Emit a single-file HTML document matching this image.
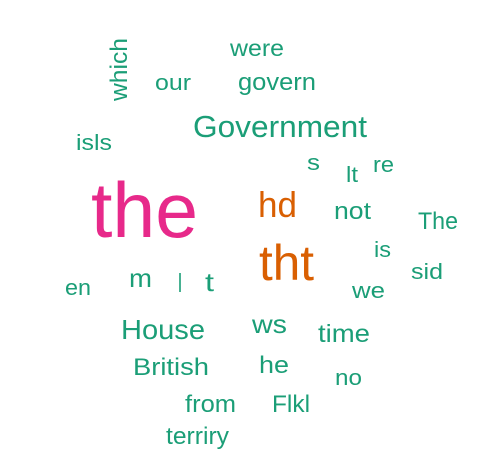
<!DOCTYPE html>
<html><head><meta charset="utf-8"><style>
html,body{margin:0;padding:0;background:#fff;}
svg{display:block;}
text{font-family:"Liberation Sans",Arial,sans-serif;}
</style></head><body>
<svg width="488" height="469" viewBox="0 0 488 469">
<g id="cloud"></g>
</svg>
<script>
const words = ["the","tht","hd","Government","House","which","were","our","govern","isls","s","lt","re","not","The","is","sid","we","en","m","l","t","ws","time","British","he","no","from","Flkl","terriry"];
const freqColor = ["#e7298a","#d95f02","#d95f02","#1b9e77","#1b9e77","#1b9e77","#1b9e77","#1b9e77","#1b9e77","#1b9e77","#1b9e77","#1b9e77","#1b9e77","#1b9e77","#1b9e77","#1b9e77","#1b9e77","#1b9e77","#1b9e77","#1b9e77","#1b9e77","#1b9e77","#1b9e77","#1b9e77","#1b9e77","#1b9e77","#1b9e77","#1b9e77","#1b9e77","#1b9e77"];
const layout = [
[91,237,78,107],[259,280,50,55],[258,217,36,39],[193,137,31,174],[121,339,28,84],
[127,101,24,63,1],[230,56,23,54],[155,90,22,36],[238,90,24,78],[76,150,22,36],
[307,170,22,13],[346,182,22,12],[373,172,22,21],[334,219,24,37],[418,229,24,40],
[374,257,22,17],[411,279,22,32],[352,298,22,33],[65,295,22,26],[129,287,26,23],
[178,292,26,4],[205,291,26,9],[252,333,26,35],[318,342,25,52],[133,375,24,76],
[259,373,24,30],[335,385,22,27],[185,412,24,51],[272,412,24,38],[166,444,24,63]];
const g=document.getElementById('cloud');
const ns="http://www.w3.org/2000/svg";
words.forEach((w,i)=>{
  const [x,y,fs,len,rot]=layout[i];
  const t=document.createElementNS(ns,'text');
  
  
  t.setAttribute('font-size',fs);
  t.setAttribute('fill',freqColor[i]);
  t.setAttribute('textLength',len);
  t.setAttribute('lengthAdjust','spacingAndGlyphs');
  if(rot){t.setAttribute('transform',`translate(${x},${y}) rotate(-90)`);}
  else{t.setAttribute('x',x);t.setAttribute('y',y);}
  t.textContent=w;
  g.appendChild(t);
});
</script>
</body></html>
